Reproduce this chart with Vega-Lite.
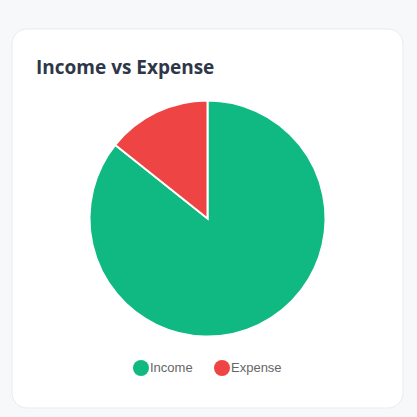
{
  "$schema": "https://vega.github.io/schema/vega-lite/v6.json",
  "width": 391,
  "height": 379,
  "autosize": {"type": "none"},
  "padding": {"left": 12, "top": 29, "right": 14, "bottom": 9},
  "background": "#f7f8fa",
  "title": {
    "text": "Income vs Expense",
    "anchor": "start",
    "frame": "group",
    "offset": -49,
    "dx": 24,
    "fontSize": 19,
    "font": "Open Sans",
    "fontWeight": "bold",
    "color": "#2d3748"
  },
  "layer": [
    {
      "data": {"values": [{"card": 1}]},
      "mark": {"type": "rect", "fill": "white", "cornerRadius": 15, "stroke": "#e9ebef", "strokeWidth": 1},
      "encoding": {}
    },
    {
      "data": {
        "values": [
          {"category": "Income", "amount": 6000, "rank": 1},
          {"category": "Expense", "amount": 1000, "rank": 2}
        ]
      },
      "mark": {"type": "arc", "outerRadius": 118, "stroke": "white", "strokeWidth": 2},
      "encoding": {
        "theta": {"field": "amount", "type": "quantitative", "stack": true},
        "order": {"field": "rank", "type": "quantitative"},
        "color": {
          "field": "category",
          "type": "nominal",
          "scale": {"domain": ["Income", "Expense"], "range": ["#10b981", "#ef4444"]},
          "legend": {
            "orient": "bottom",
            "direction": "horizontal",
            "offset": -48,
            "title": null,
            "symbolType": "circle",
            "symbolSize": 256,
            "symbolStrokeWidth": 0,
            "labelFont": "Liberation Sans",
            "labelFontSize": 13,
            "labelColor": "#666666",
            "labelOffset": 1,
            "columnPadding": 21
          }
        }
      }
    }
  ],
  "config": {
    "view": {"stroke": null},
    "legend": {"layout": {"bottom": {"anchor": "middle"}}}
  }
}
